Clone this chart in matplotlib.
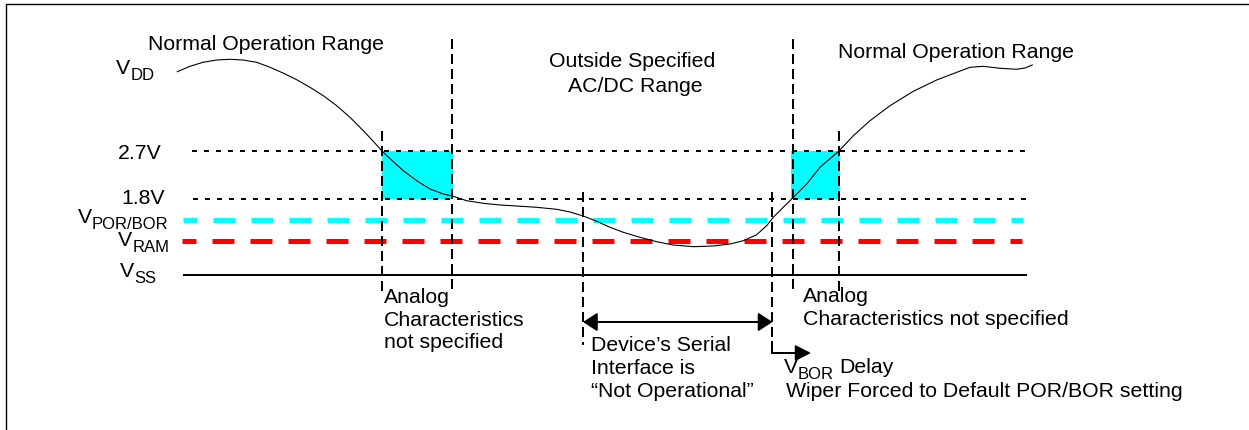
# POR/BOR supply diagram: VDD trace against the 2.7 V / 1.8 V / POR / RAM levels
import matplotlib.pyplot as plt
from matplotlib.patches import FancyArrowPatch, Rectangle

plt.rcParams.update({"font.family": "Liberation Sans", "lines.scale_dashes": False})

W, H = 1249, 431
PT = 0.72          # points per pixel at dpi=100
FS, FS_SUB = 15.3, 12.0
C_CYAN, C_RED = "#00ffff", "#ff0000"

# VDD trace (time, level), diagram units
VDD_T = [177.3, 190, 203, 216.7, 230, 243, 256.7, 270, 283, 296.7, 310, 323.3,
         336.7, 350, 363.3, 373.3, 381.7, 393.3, 403.3, 416.7, 430, 443.3, 453.3,
         466.7, 483.3, 500, 516.7, 536.7, 556.7, 570, 583.3, 596.7, 610, 623.3,
         640, 656.7, 673.3, 693.3, 713.3, 730, 743.3, 756.7, 766.7, 773.3, 783.3,
         792.7, 806.7, 820, 839.3, 853.3, 870, 890, 913.3, 936.7, 956.7, 970,
         983.3, 1000, 1016.7, 1025, 1032.3]
VDD_V = [72.7, 67.3, 63.3, 61, 60.3, 61, 63.3, 68.3, 74, 80.7, 88.3, 96.7,
         106.7, 118.3, 131.7, 142.3, 151.7, 162.7, 171.7, 181.7, 190, 195, 197.3,
         201.7, 204.3, 206, 207, 208.3, 210.3, 213, 217, 222.3, 228.3, 233.3,
         238.3, 242.7, 246, 247.7, 247, 245, 241.7, 235.7, 226.7, 218.3, 208.3,
         199, 185, 168.3, 151.7, 136.7, 121.7, 106.7, 92.3, 81, 73.3, 68.3,
         67.3, 69.3, 70.3, 69, 66]

# levels
LEVEL_27, LEVEL_18 = 152, 199.5
LEVEL_POR, LEVEL_RAM, LEVEL_SS = 220.5, 241.5, 276

# event times
T_DOWN_27, T_DOWN_18 = 382, 452
T_POR_DOWN, T_POR_UP = 583, 772.5
T_UP_18, T_UP_27 = 793, 839
T_DELAY_END = 811


def hline(ax, y, x0, x1, color, lw, dash=None, offset=0.0, z=2):
    ls = "-" if dash is None else (offset * PT, (dash[0] * PT, dash[1] * PT))
    ax.plot([x0, x1], [y, y], color=color, lw=lw * PT, ls=ls, zorder=z,
            solid_capstyle="butt", dash_capstyle="butt")


def vline(ax, x, y0, y1):
    ax.plot([x, x], [y0, y1], color="black", lw=2 * PT,
            ls=(0, (10 * PT, 5 * PT)), dash_capstyle="butt", zorder=3)


def text(ax, x, y, s, size=FS, ha="left"):
    return ax.text(x, y, s, fontsize=size, ha=ha, va="baseline")


def vlabel(ax, x, y, sub, tail=None):
    v = text(ax, x, y, "V")
    s = ax.annotate(sub, xy=(1, y), xycoords=(v, "data"), xytext=(0, -6 * PT),
                    textcoords="offset points", fontsize=FS_SUB, va="baseline")
    if tail:
        ax.annotate(tail, xy=(1, y), xycoords=(s, "data"), xytext=(5 * PT, 0),
                    textcoords="offset points", fontsize=FS, va="baseline")


def main() -> None:
    fig = plt.figure(figsize=(W / 100, H / 100), dpi=100)
    ax = fig.add_axes([0, 0, 1, 1])
    ax.set_xlim(0, W)
    ax.set_ylim(H, 0)
    ax.axis("off")

    # frame (right/bottom edges fall outside the picture)
    ax.plot([6.5, 6.5, W + 5], [H + 5, 5, 5], color="black", lw=1.4 * PT)

    # "analog characteristics not specified" windows
    for t0, t1 in [(T_DOWN_27, T_DOWN_18 + 1.5), (T_UP_18 - 2, T_UP_27 + 1.5)]:
        ax.add_patch(Rectangle((t0, LEVEL_27), t1 - t0, LEVEL_18 - LEVEL_27,
                               facecolor=C_CYAN, edgecolor="none", zorder=1))

    hline(ax, LEVEL_27, 192, 1030, "black", 2, (5, 7))
    hline(ax, LEVEL_18, 193, 1030, "black", 2, (5, 7))
    hline(ax, LEVEL_POR, 183, 1023, C_CYAN, 5, (22, 16), 8)
    hline(ax, LEVEL_RAM, 182, 1022, C_RED, 5, (22, 16), 8)
    hline(ax, LEVEL_SS, 183, 1027, "black", 2)

    vline(ax, T_DOWN_27, 132, 292)
    vline(ax, T_DOWN_18, 40, 292)
    vline(ax, T_POR_DOWN, 193, 346)
    vline(ax, T_POR_UP, 193, 344)
    vline(ax, T_UP_18, 40, 292)
    vline(ax, T_UP_27, 132, 292)

    ax.plot(VDD_T, VDD_V, color="black", lw=1.1 * PT, zorder=4)

    # serial interface not operational
    ax.add_patch(FancyArrowPatch((T_POR_UP, 323), (T_POR_DOWN, 323),
                                 arrowstyle="<|-|>,head_length=8.6,head_width=5.6",
                                 mutation_scale=1, shrinkA=0, shrinkB=0,
                                 color="black", lw=2 * PT, zorder=5))
    # VBOR delay
    ax.plot([T_POR_UP, T_POR_UP, T_POR_UP + 10], [343, 354, 354], color="black",
            lw=2 * PT, zorder=5, solid_joinstyle="miter")
    ax.add_patch(FancyArrowPatch((T_POR_UP + 5, 354), (T_DELAY_END, 354),
                                 arrowstyle="-|>,head_length=9.4,head_width=4.8",
                                 mutation_scale=1, shrinkA=0, shrinkB=0,
                                 color="black", lw=2 * PT, zorder=5))

    # labels
    text(ax, 148, 50, "Normal Operation Range")
    text(ax, 838, 58, "Normal Operation Range")
    text(ax, 632, 67, "Outside Specified", ha="center")
    text(ax, 635, 92, "AC/DC Range", ha="center")

    vlabel(ax, 116, 74, "DD")
    text(ax, 118, 159, "2.7V")
    text(ax, 121, 204, "1.8V")
    vlabel(ax, 78, 223, "POR/BOR")
    vlabel(ax, 118, 246, "RAM")
    vlabel(ax, 120, 277, "SS")

    for i, s in enumerate(["Analog", "Characteristics", "not specified"]):
        text(ax, 384, 303 + 22.7 * i, s)
    for i, s in enumerate(["Analog", "Characteristics not specified"]):
        text(ax, 803, 302 + 23 * i, s)
    for i, s in enumerate(["Device\u2019s Serial", "Interface is",
                           "\u201cNot Operational\u201d"]):
        text(ax, 591, 351 + 23 * i, s)
    vlabel(ax, 784, 373, "BOR", tail="Delay")
    text(ax, 786, 397, "Wiper Forced to Default POR/BOR setting")

    fig.savefig("out.png", dpi=100)
    plt.close(fig)


if __name__ == "__main__":
    main()
